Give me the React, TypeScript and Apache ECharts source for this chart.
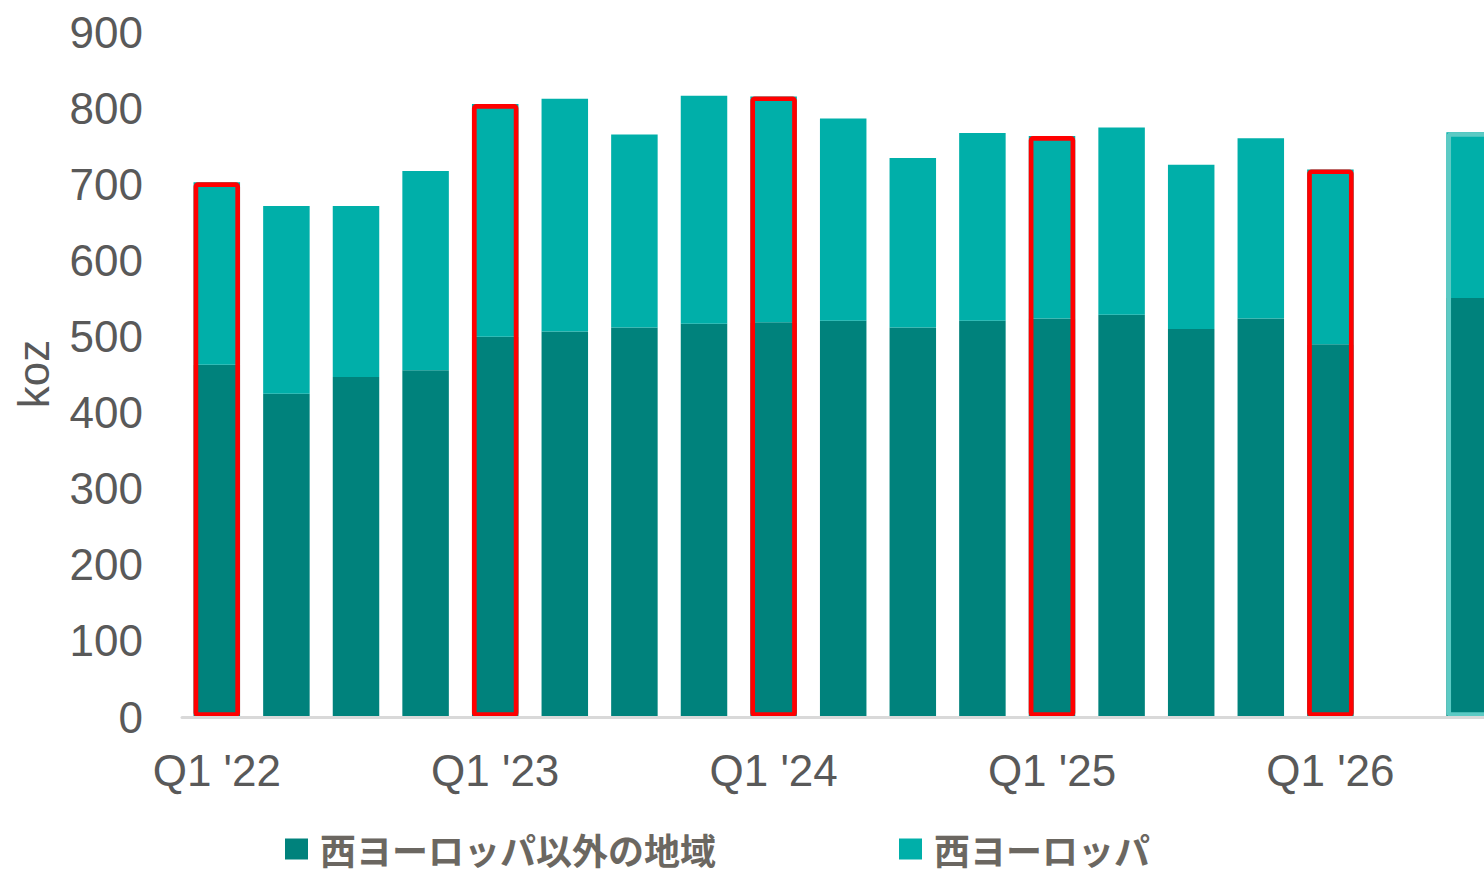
import React, { useEffect, useRef } from "react";
import * as echarts from "echarts";

const categories = [
  "Q1 '22", "Q2 '22", "Q3 '22", "Q4 '22",
  "Q1 '23", "Q2 '23", "Q3 '23", "Q4 '23",
  "Q1 '24", "Q2 '24", "Q3 '24", "Q4 '24",
  "Q1 '25", "Q2 '25", "Q3 '25", "Q4 '25",
  "Q1 '26", "Q2 '26", "Q3 '26",
];

// 西ヨーロッパ以外の地域 (dark, bottom)
const outsideWE: (number | string)[] = [
  463, 425, 447, 456, 500, 507, 512, 517, 519, 521, 512, 521, 524, 529, 510, 524, 490, "-", 551,
];
// 西ヨーロッパ (light, top)
const westernEurope: (number | string)[] = [
  240, 247, 225, 262, 306, 306, 254, 300, 297, 266, 223, 247, 240, 246, 216, 237, 230, "-", 218,
];

const redOutlined = [0, 4, 8, 12, 16];
const tealOutlined = [18];

const yTicks = { min: 0, max: 900, interval: 100 };

const DARK = "#00827c";
const LIGHT = "#00afa9";

const CHART_W = 1510;

export default function App() {
  const ref = useRef<HTMLDivElement>(null);
  useEffect(() => {
    if (!ref.current) return;
    const chart = echarts.init(ref.current, null, { renderer: "svg" });

    const outlineData = categories.map((_, i) => {
      const total = (outsideWE[i] as number) + (westernEurope[i] as number);
      if (redOutlined.includes(i)) {
        return { value: total, itemStyle: { borderColor: "#ff0000" } };
      }
      if (tealOutlined.includes(i)) {
        return { value: total, itemStyle: { borderColor: "#5ccac4" } };
      }
      return "-";
    });

    chart.setOption({
      animation: false,
      grid: { left: 182, right: CHART_W - 182 - 1322.4, top: 32.5, bottom: 157, containLabel: false },
      graphic: [
        {
          type: "text",
          x: 33,
          y: 374,
          rotation: Math.PI / 2,
          style: {
            text: "koz",
            fill: "#595959",
            font: "44px 'Liberation Sans', Arial, sans-serif",
            align: "center",
            verticalAlign: "middle",
          },
        },
      ],
      legend: {
        data: ["西ヨーロッパ以外の地域", "西ヨーロッパ"],
        left: 285,
        top: 831,
        padding: 0,
        itemWidth: 23,
        itemHeight: 21,
        itemGap: 183,
        icon: "rect",
        textStyle: {
          fontSize: 36,
          lineHeight: 36,
          fontWeight: "bold",
          color: "#6b6761",
          fontFamily: "'Noto Sans CJK JP', sans-serif",
          padding: [0, 0, 0, 7],
        },
      },
      xAxis: {
        type: "category",
        data: categories,
        z: 5,
        axisLine: { show: true, lineStyle: { color: "#d9d9d9", width: 3 } },
        axisTick: { show: false },
        axisLabel: {
          interval: 3,
          margin: 31,
          fontSize: 44,
          color: "#595959",
          fontFamily: "'Liberation Sans', Arial, sans-serif",
        },
      },
      yAxis: {
        type: "value",
        min: yTicks.min,
        max: yTicks.max,
        interval: yTicks.interval,
        axisLine: { show: false },
        axisTick: { show: false },
        splitLine: { show: false },
        axisLabel: {
          margin: 39,
          fontSize: 44,
          color: "#595959",
          fontFamily: "'Liberation Sans', Arial, sans-serif",
        },
      },
      series: [
        {
          name: "西ヨーロッパ以外の地域",
          type: "bar",
          stack: "total",
          barWidth: 46.5,
          itemStyle: { color: DARK },
          data: outsideWE,
        },
        {
          name: "西ヨーロッパ",
          type: "bar",
          stack: "total",
          barWidth: 46.5,
          itemStyle: { color: LIGHT },
          data: westernEurope,
        },
        {
          name: "outline",
          type: "bar",
          barWidth: 46.5,
          barGap: "-100%",
          silent: true,
          itemStyle: {
            color: "rgba(0,0,0,0)",
            borderWidth: 4.7,
            borderRadius: 2,
          },
          data: outlineData,
        },
      ],
    });
    return () => chart.dispose();
  }, []);
  return (
    <div
      style={{
        position: "absolute",
        left: 0,
        top: 0,
        width: 1484,
        height: 874,
        overflow: "hidden",
      }}
    >
      <div ref={ref} style={{ width: CHART_W, height: 874 }} />
    </div>
  );
}
